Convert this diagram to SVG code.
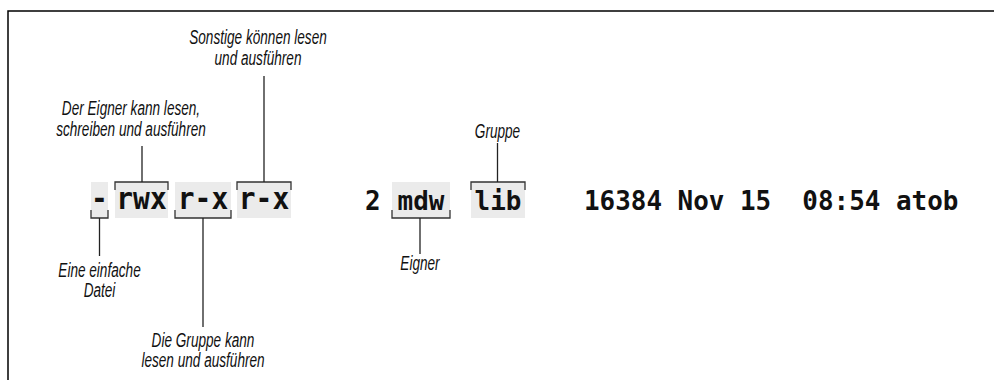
<svg xmlns="http://www.w3.org/2000/svg" width="994" height="380" viewBox="0 0 994 380">
<style>
.box{fill:#ebebeb;stroke:none}
.br{fill:none;stroke:#333;stroke-width:1.3}
.ln{fill:none;stroke:#222;stroke-width:1.3}
.perm{font-family:"DejaVu Sans Mono",monospace;font-weight:bold;font-size:31px;fill:#111;text-anchor:middle}
.mono{font-family:"DejaVu Sans Mono",monospace;font-weight:bold;font-size:27px;fill:#111}
.lab{font-family:"Liberation Sans",Arial,sans-serif;font-style:italic;font-size:20px;fill:#111;text-anchor:middle}
</style>
<rect width="994" height="380" fill="#fff"/>
<path d="M8 380 V11 H994" fill="none" stroke="#000" stroke-width="1.5"/>

<g id="type">
<rect class="box" x="91" y="182" width="17" height="36"/>
<path class="br" d="M91 210 V218 H108 V210"/>
<text class="perm" transform="translate(99.5 209) scale(0.9 1)">-</text>
</g>
<g id="owner-perm">
<rect class="box" x="115" y="182" width="53" height="36"/>
<path class="br" d="M115 190 V182 H168 V190"/>
<text class="perm" transform="translate(141.5 209) scale(0.9 1)">rwx</text>
</g>
<g id="group-perm">
<rect class="box" x="175" y="182" width="56" height="36"/>
<path class="br" d="M175 210 V218 H231 V210"/>
<text class="perm" transform="translate(203 209) scale(0.9 1)">r-x</text>
</g>
<g id="other-perm">
<rect class="box" x="237" y="182" width="54" height="36"/>
<path class="br" d="M237 190 V182 H291 V190"/>
<text class="perm" transform="translate(264 209) scale(0.9 1)">r-x</text>
</g>
<g id="links">
<text class="mono" transform="translate(365 210) scale(0.96 1)">2</text>
</g>
<g id="owner">
<rect class="box" x="392" y="182" width="58" height="36"/>
<path class="br" d="M392 210 V218 H450 V210"/>
<text class="mono" transform="translate(421 210) scale(0.96 1)" text-anchor="middle">mdw</text>
</g>
<g id="group">
<rect class="box" x="471" y="182" width="54" height="36"/>
<path class="br" d="M471 190 V182 H525 V190"/>
<text class="mono" transform="translate(498 210) scale(0.96 1)" text-anchor="middle">lib</text>
</g>
<g id="rest">
<text class="mono" transform="translate(584 210) scale(0.96 1)" xml:space="preserve">16384 Nov 15  08:54 atob</text>
</g>

<g id="connectors">
<path class="ln" d="M99.5 218 V256"/>
<path class="ln" d="M142 182 V146"/>
<path class="ln" d="M203 218 V327"/>
<path class="ln" d="M264 182 V76"/>
<path class="ln" d="M420 218 V254"/>
<path class="ln" d="M497.5 182 V143"/>
</g>

<g id="labels">
<text class="lab" transform="translate(258 44) scale(0.68 1)">Sonstige können lesen</text>
<text class="lab" transform="translate(258 65) scale(0.68 1)">und ausführen</text>
<text class="lab" transform="translate(131 115) scale(0.68 1)">Der Eigner kann lesen,</text>
<text class="lab" transform="translate(131 136) scale(0.68 1)">schreiben und ausführen</text>
<text class="lab" transform="translate(497.5 138) scale(0.68 1)">Gruppe</text>
<text class="lab" transform="translate(99.5 277) scale(0.68 1)">Eine einfache</text>
<text class="lab" transform="translate(99.5 297) scale(0.68 1)">Datei</text>
<text class="lab" transform="translate(420 270) scale(0.68 1)">Eigner</text>
<text class="lab" transform="translate(203 347) scale(0.68 1)">Die Gruppe kann</text>
<text class="lab" transform="translate(203 367) scale(0.68 1)">lesen und ausführen</text>
</g>
</svg>
